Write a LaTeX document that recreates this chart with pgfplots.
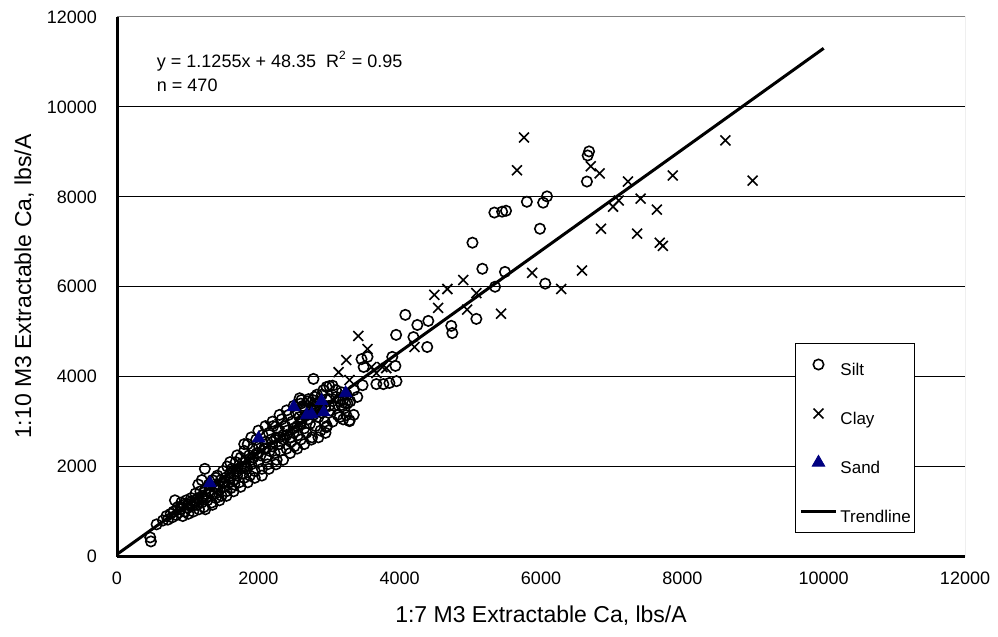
\documentclass[border=0pt]{standalone}
\usepackage{pgfplots}
\pgfplotsset{compat=1.18}
\usepackage{fontspec}
\setmainfont{Liberation Sans}
\definecolor{sandblue}{RGB}{0,0,128}
\definecolor{bordergray}{RGB}{128,128,128}

\pgfplotsset{
  markleg/.style={legend image code/.code={\draw[mark repeat=2, mark phase=2, ##1]
    plot coordinates {(0pt,0pt) (8.75pt,0pt) (17.5pt,0pt)};}},
  lineleg/.style={legend image code/.code={\draw[##1] (0pt,0pt) -- (17.5pt,0pt);}},
}

% Silt samples (1:7 vs 1:10 extraction, lbs/A)
\pgfplotstableread{
x y
470 425
480 335
560 715
650 800
700 900
720 820
760 950
780 870
800 1000
820 1250
840 920
860 1100
880 980
900 1050
900 1100
910 1200
930 900
950 1150
960 1000
980 1250
1000 1080
1000 1150
1010 950
1030 1200
1050 1300
1060 1120
1080 1000
1100 1250
1100 1200
1110 1400
1130 1150
1150 1300
1150 1600
1160 1050
1180 1450
1200 1200
1200 1300
1200 1700
1210 1350
1230 1100
1250 1500
1250 1050
1260 1300
1280 1250
1300 1600
1300 1450
1243 1950
1320 1420
1340 1200
1350 1700
1350 1150
1370 1550
1390 1400
1400 1300
1400 1550
1400 1750
1420 1800
1430 1600
1450 1480
1450 1250
1470 1700
1480 1350
1500 1900
1500 1650
1510 1550
1530 1750
1550 1450
1550 1350
1560 2000
1580 1650
1600 1850
1600 1750
1600 2100
1610 1520
1630 1950
1650 1700
1650 1450
1660 1600
1680 2100
1700 1800
1700 1900
1700 2250
1710 1950
1730 1650
1750 2200
1750 1550
1760 2000
1780 1850
1800 2350
1800 1750
1800 2000
1800 2500
1820 2100
1840 1950
1850 2500
1850 1650
1870 2250
1880 1800
1900 2050
1900 2150
1900 2650
1920 2400
1930 2200
1950 1900
1950 1750
1970 2600
1980 2300
2000 2100
2000 2300
2000 2800
2010 2450
2030 2250
2050 1950
2050 1800
2060 2700
2080 2400
2100 2550
2100 2400
2100 2900
2110 2200
2130 2050
2150 2750
2150 1950
2160 2350
2180 2600
2200 2450
2200 2550
2200 3000
2210 2900
2230 2300
2250 2650
2250 2050
2260 2150
2280 2800
2300 2500
2300 2650
2300 3150
2310 2350
2330 3050
2350 2700
2350 2150
2360 2600
2380 2900
2400 2400
2400 2700
2400 3250
2410 2800
2430 3150
2450 2650
2450 2300
2460 2550
2480 3000
2500 2750
2500 2850
2500 3350
2510 2450
2530 3200
2550 2900
2550 2400
2560 2700
2580 3100
2585 3520
2600 2600
2600 2950
2600 3400
2610 3000
2610 3480
2630 3350
2650 2850
2650 2500
2650 3300
2660 3250
2680 2750
2700 3050
2700 3150
2700 3450
2710 3500
2730 2950
2750 3300
2750 2600
2760 2650
2770 3480
2780 3150
2780 3950
2800 3400
2800 3250
2800 3550
2810 2900
2830 3600
2850 3100
2850 2650
2870 3450
2880 2800
2900 3200
2900 3600
2920 3700
2940 3000
2950 3350
2950 2750
2965 2875
2965 3770
2970 2900
3000 3500
3000 3350
3005 3790
3020 3250
3050 3800
3050 3000
3080 3350
3100 3550
3100 3700
3120 3150
3150 3450
3150 3100
3175 3370
3180 3650
3200 3050
3200 3480
3220 3300
3230 3410
3245 3145
3250 3600
3260 3410
3290 3010
3290 3030
3300 3450
3350 3700
3350 3150
3400 3550
3460 4390
3475 3810
3490 4215
3545 4440
3670 3835
3770 3835
3855 3860
3895 4440
3940 4240
3950 4930
3955 3900
4080 5375
4195 4880
4250 5150
4390 4660
4405 5240
4730 5130
4745 4970
5030 6980
5085 5285
5170 6400
5340 7650
5350 6000
5450 7670
5490 6330
5505 7690
5800 7890
5985 7290
6030 7870
6060 6070
6085 8010
6650 8340
6660 8920
6680 9010
}\silt

% Clay samples
\pgfplotstableread{
x y
1625 1880
1665 1960
1835 2140
2160 2900
2300 2950
2600 3100
2750 3400
3050 3500
3135 4100
3245 4370
3290 3925
3415 4905
3545 4615
3600 4215
3670 4080
3755 4215
3810 4190
4210 4660
4490 5820
4545 5530
4675 5950
4900 6150
4955 5490
5085 5860
5435 5400
5660 8590
5760 9320
5875 6310
6285 5950
6580 6360
6705 8680
6830 8520
6850 7290
7020 7780
7100 7920
7230 8340
7360 7180
7410 7960
7640 7715
7680 6980
7725 6910
7865 8475
8610 9255
8995 8360
}\clay

% Sand samples
\pgfplotstableread{
x y
1315 1630
2005 2630
2500 3325
2685 3145
2755 3165
2895 3460
2925 3210
3235 3635
}\sand

\begin{document}
\begin{tikzpicture}
\begin{axis}[
  scale only axis, width=424pt, height=269.75pt,
  xmin=0, xmax=12000, ymin=0, ymax=12000,
  xtick={0,2000,...,12000}, ytick={0,2000,...,12000},
  scaled ticks=false,
  axis x line*=bottom, axis y line*=left,
  axis line style={-, line width=1.5pt, black},
  major tick length=0pt,
  ymajorgrids, grid style={black, line width=0.5pt},
  /pgf/number format/assume math mode=true,
  /pgf/number format/1000 sep={},
  tick label style={font=\fontsize{9}{10}\selectfont},
  xticklabel style={yshift=-4pt},
  yticklabel style={xshift=-6.5pt},
  xlabel={1:7 M3 Extractable Ca, lbs/A},
  ylabel={1:10 M3 Extractable Ca, lbs/A},
  label style={font=\fontsize{11.5}{13}\selectfont},
  xlabel style={at={(axis description cs:0.5,-0.1097)}, anchor=center},
  ylabel style={at={(axis description cs:-0.1093,0.5)}, anchor=center},
  legend cell align=left,
  legend style={at={(0.7995,0.3957)}, anchor=north west, draw=black,
    line width=0.5pt, fill=white, inner xsep=2pt, inner ysep=2pt,
    row sep=7.5pt, column sep=1.5pt,
    nodes={inner sep=0pt, text height=14pt, text depth=3pt,
      font=\fontsize{8.5}{10}\selectfont}},
]
\addplot[only marks, mark=o, mark size=2.6pt, line width=0.8pt,
  mark options={fill=white, draw=black}, markleg]
  table[x=x, y=y] {\silt};
\addlegendentry{Silt}
\addplot[only marks, mark=x, mark size=3.5pt, line width=0.8pt, draw=black, markleg]
  table[x=x, y=y] {\clay};
\addlegendentry{Clay}
\addplot[only marks, mark=triangle*, mark size=3.6pt, line width=0.4pt,
  mark options={fill=sandblue, draw=sandblue}, markleg]
  table[x=x, y=y] {\sand};
\addlegendentry{Sand}
\addplot[black, line width=1.5pt, mark=none, lineleg]
  coordinates {(0,48.35) (10000,11303.35)};
\addlegendentry{Trendline}

\draw[bordergray, line width=0.5pt] (rel axis cs:0,1) -- (rel axis cs:1,1) -- (rel axis cs:1,0);
\node[anchor=west, font=\fontsize{9}{10}\selectfont, inner sep=0pt]
  at (axis cs:560,11016) {y = 1.1255x + 48.35\ \ R\textsuperscript{2} = 0.95};
\node[anchor=west, font=\fontsize{9}{10}\selectfont, inner sep=0pt]
  at (axis cs:560,10480) {n = 470};
\end{axis}
\pgfresetboundingbox
\path ([shift={(-58.5pt,-39.75pt)}]current axis.south west)
  rectangle ([shift={(16.5pt,8.5pt)}]current axis.north east);
\end{tikzpicture}
\end{document}
